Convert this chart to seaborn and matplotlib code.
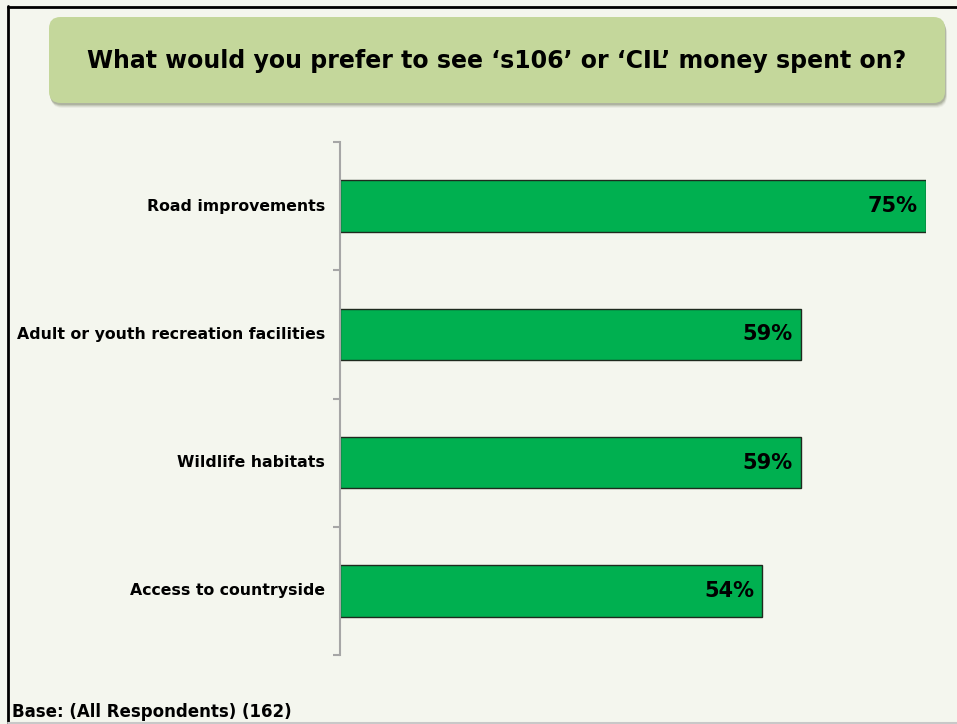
import matplotlib
matplotlib.use("Agg")
import matplotlib.pyplot as plt
from matplotlib.patches import FancyBboxPatch
from matplotlib.lines import Line2D
import seaborn as sns
import pandas as pd

# Survey responses
categories = ["Road improvements", "Adult or youth recreation facilities",
              "Wildlife habitats", "Access to countryside"]
percent = [75, 59, 59, 54]
title_text = "What would you prefer to see \u2018s106\u2019 or \u2018CIL\u2019 money spent on?"
base_text = "Base: (All Respondents) (162)"

BG = "#f4f6ee"
BAR = "#00b050"

sns.set_theme(style="white")
plt.rcParams["font.family"] = ["DejaVu Sans"]

W, H = 957, 724
fig = plt.figure(figsize=(W / 100, H / 100), dpi=100, facecolor=BG)

# Frame lines (top and left dark, bottom light)
fig.add_artist(Line2D([8 / W, 8 / W], [0, 1 - 6 / H], color="black", lw=2, transform=fig.transFigure))
fig.add_artist(Line2D([8 / W, 1], [1 - 7 / H, 1 - 7 / H], color="black", lw=2, transform=fig.transFigure))
fig.add_artist(Line2D([8 / W, 1], [1.5 / H, 1.5 / H], color="#c8c8c8", lw=1.5, transform=fig.transFigure))

# Title box with soft shadow
def fbox(x0, y0, x1, y1, **kw):
    return FancyBboxPatch((x0 / W, 1 - y1 / H), (x1 - x0) / W, (y1 - y0) / H,
                          boxstyle="round,pad=0,rounding_size=0.012",
                          transform=fig.transFigure, mutation_aspect=W / H, **kw)

for off, a in [(5, 0.08), (4, 0.12), (3, 0.18), (2, 0.25)]:
    fig.add_artist(fbox(49 + off * 0.4, 17 + off, 945 + off * 0.4, 103 + off,
                        facecolor="#6d7556", edgecolor="none", alpha=a))
fig.add_artist(fbox(49, 17, 945, 103, facecolor="#c4d79b", edgecolor="none"))
fig.text(497 / W, 1 - 61 / H, title_text, ha="center", va="center",
         fontsize=17, fontweight="bold", color="black")

# Bar chart
ax_left, ax_right, ax_top, ax_bot = 340, 926, 142, 655
ax = fig.add_axes([ax_left / W, 1 - ax_bot / H, (ax_right - ax_left) / W, (ax_bot - ax_top) / H])
ax.set_facecolor(BG)
df = pd.DataFrame({"category": categories, "percent": percent})
sns.barplot(data=df, y="category", x="percent", orient="h", color=BAR,
            saturation=1, width=0.4, edgecolor="#1e2a1e", linewidth=1, ax=ax)
ax.set_xlim(0, 75)
ax.set_ylim(len(categories) - 0.5, -0.5)

px = 75 / (ax_right - ax_left)
for i, v in enumerate(percent):
    ax.text(v - 8 * px, i, f"{v}%", ha="right", va="center",
            fontsize=15, fontweight="bold", color="black")

for s in ["top", "right", "bottom"]:
    ax.spines[s].set_visible(False)
ax.spines["left"].set_color("#a6a6a6")
ax.spines["left"].set_linewidth(1.5)
ax.set_xticks([])
ax.set_xlabel("")
ax.set_ylabel("")
ax.set_yticks([i - 0.5 for i in range(len(categories) + 1)], minor=False)
ax.set_yticklabels([])
ax.tick_params(axis="y", which="major", length=5, width=1.5, color="#a6a6a6", left=True, pad=0)
for i, c in enumerate(categories):
    ax.text(-15 * px, i, c, ha="right", va="center",
            fontsize=11.3, fontweight="bold", color="black")

fig.text(12 / W, 1 - 712 / H, base_text, ha="left", va="center",
         fontsize=12, fontweight="bold", color="black")

fig.savefig("out.png", dpi=100, facecolor=BG)
